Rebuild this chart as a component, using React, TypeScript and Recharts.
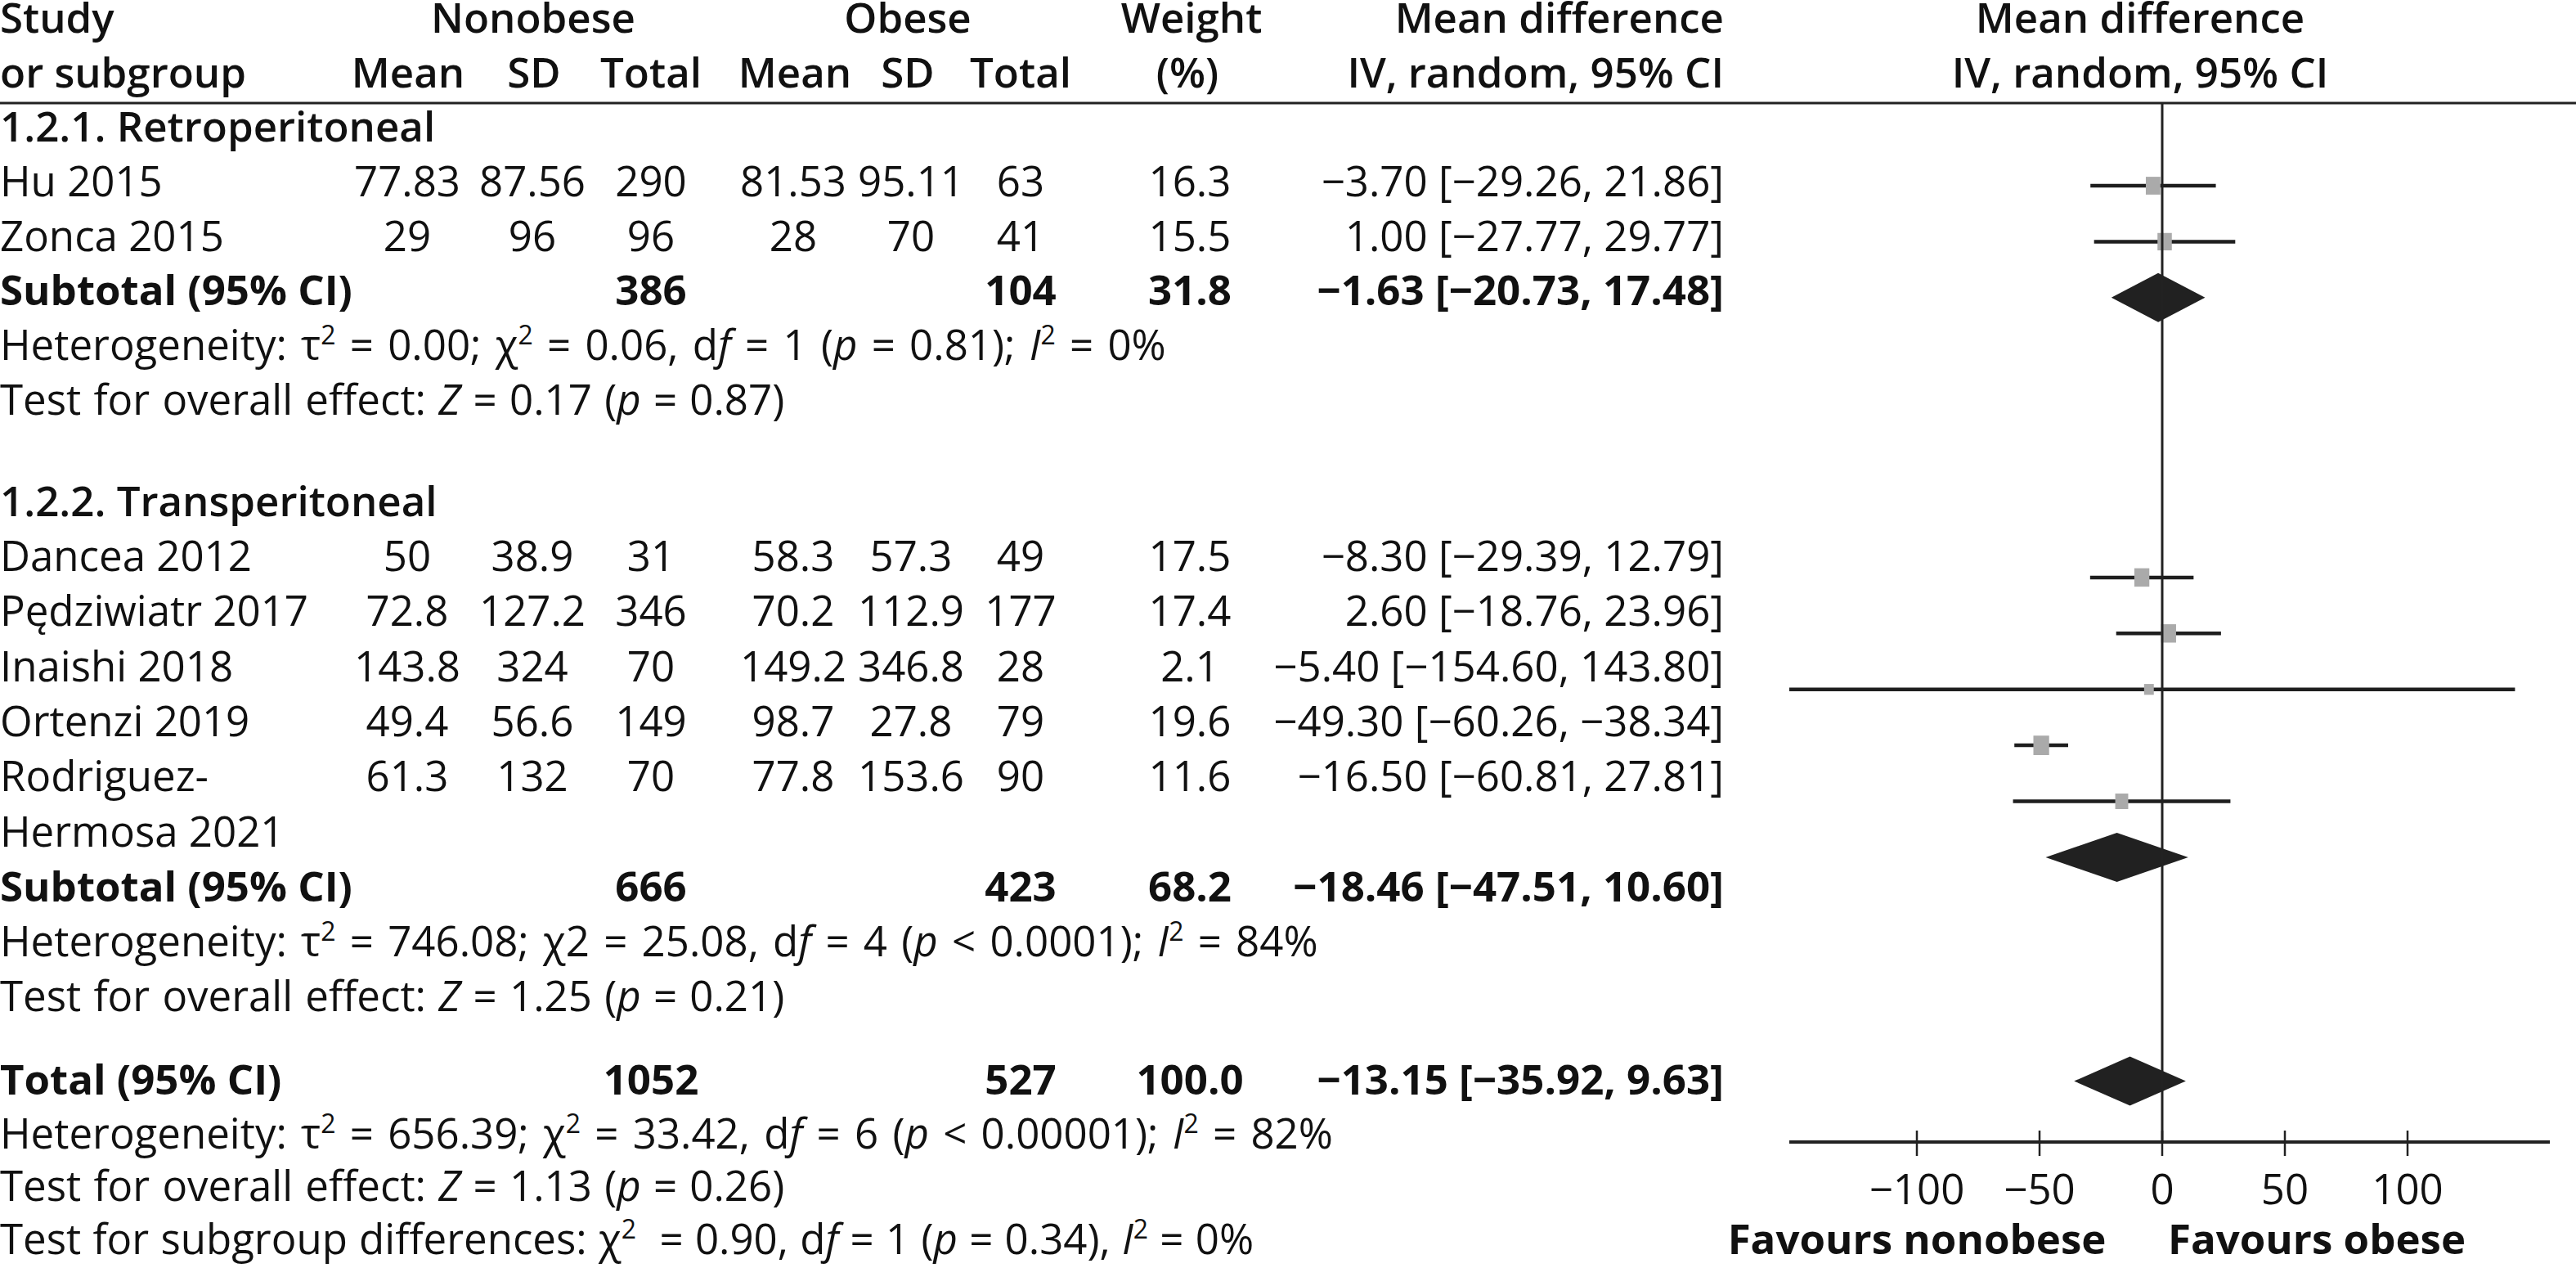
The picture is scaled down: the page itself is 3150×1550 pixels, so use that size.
import React from 'react';
import { ComposedChart, Bar, XAxis, YAxis, ReferenceLine } from 'recharts';

const FONT = '"Open Sans", "Noto Sans", sans-serif';
const INK = '#111111';
const FS = 51;

// ---------- data ----------
const studyNames = ['Hu 2015', 'Zonca 2015', 'Dancea 2012', 'Pędziwiatr 2017', 'Inaishi 2018', 'Ortenzi 2019', 'Rodriguez-|Hermosa 2021'];
const mean1 = [77.83, 29, 50, 72.8, 143.8, 49.4, 61.3];
const sd1 = [87.56, 96, 38.9, 127.2, 324, 56.6, 132];
const total1 = [290, 96, 31, 346, 70, 149, 70];
const mean2 = [81.53, 28, 58.3, 70.2, 149.2, 98.7, 77.8];
const sd2 = [95.11, 70, 57.3, 112.9, 346.8, 27.8, 153.6];
const total2 = [63, 41, 49, 177, 28, 79, 90];
const weights = [16.3, 15.5, 17.5, 17.4, 2.1, 19.6, 11.6];
const meanDiff = [-3.7, 1.0, -8.3, 2.6, -5.4, -49.3, -16.5];
const ciLow = [-29.26, -27.77, -29.39, -18.76, -154.6, -60.26, -60.81];
const ciHigh = [21.86, 29.77, 12.79, 23.96, 143.8, -38.34, 27.81];
const studyPlotRow = [0, 1, 7, 8, 9, 10, 11];

const pooledNames = ['Subtotal (95% CI)', 'Subtotal (95% CI)', 'Total (95% CI)'];
const pooledTotal1 = [386, 666, 1052];
const pooledTotal2 = [104, 423, 527];
const pooledWeight = [31.8, 68.2, 100.0];
const pooledMD = [-1.63, -18.46, -13.15];
const pooledLow = [-20.73, -47.51, -35.92];
const pooledHigh = [17.48, 10.6, 9.63];
const pooledPlotRow = [2, 12, 16];

const groupTitles = ['1.2.1. Retroperitoneal', '1.2.2. Transperitoneal'];
const statLines = [
  'Heterogeneity: τ^2 = 0.00; χ^2 = 0.06, d_f_ = 1 (_p_ = 0.81); _I_^2 = 0%',
  'Test for overall effect: _Z_ = 0.17 (_p_ = 0.87)',
  'Heterogeneity: τ^2 = 746.08; χ2 = 25.08, d_f_ = 4 (_p_ < 0.0001); _I_^2 = 84%',
  'Test for overall effect: _Z_ = 1.25 (_p_ = 0.21)',
  'Heterogeneity: τ^2 = 656.39; χ^2 = 33.42, d_f_ = 6 (_p_ < 0.00001); _I_^2 = 82%',
  'Test for overall effect: _Z_ = 1.13 (_p_ = 0.26)',
  'Test for subgroup differences: χ^2  = 0.90, d_f_ = 1 (_p_ = 0.34), _I_^2 = 0%',
];
const xTicks = [-100, -50, 0, 50, 100];
const xDomain: [number, number] = [-152, 158];
const favourLabels = ['Favours nonobese', 'Favours obese'];

// ---------- layout (not data) ----------
const studyBaseline = [240, 307, 698, 765, 833, 900, 967];
const pooledBaseline = [373, 1102, 1338];
const titleBaseline = [173, 631];
const statBaseline = [440, 507, 1169, 1236, 1404, 1468, 1533];
const statWordSpacing = [4, 2, 4, 2, 4, 2, 1];
const COL = { mean1: 498, sd1: 651, tot1: 796, mean2: 970, sd2: 1114, tot2: 1248, w: 1455, md: 2108 };

// ---------- helpers ----------
const minus = (s: string) => s.replace(/-/g, '−');
const fmtNum = (v: number) => minus(String(v));
const fmt2 = (v: number) => minus(v.toFixed(2));
const fmtCI = (m: number, lo: number, hi: number) => `${fmt2(m)} [${fmt2(lo)}, ${fmt2(hi)}]`;

type Row = { row: number; ci?: [number, number]; md?: number; weight?: number; kind?: string };
const plotRows: Row[] = Array.from({ length: 17 }, (_, r) => ({ row: r }));
studyPlotRow.forEach((r, i) => {
  plotRows[r] = { row: r, ci: [ciLow[i], ciHigh[i]], md: meanDiff[i], weight: weights[i], kind: 'study' };
});
pooledPlotRow.forEach((r, i) => {
  plotRows[r] = { row: r, ci: [pooledLow[i], pooledHigh[i]], md: pooledMD[i], weight: pooledWeight[i], kind: 'pooled' };
});

function rich(s: string) {
  const parts = s.split(/(_[^_]+_|\^2)/).filter((p) => p !== '');
  const out: any[] = [];
  let raised = false;
  parts.forEach((p, i) => {
    if (p === '^2') {
      out.push(<tspan key={i} dy={-19} fontSize={32}>2</tspan>);
      raised = true;
      return;
    }
    const dy = raised ? 19 : undefined;
    raised = false;
    if (p.length > 2 && p.startsWith('_') && p.endsWith('_')) {
      out.push(<tspan key={i} dy={dy} fontStyle="italic">{p.slice(1, -1)}</tspan>);
    } else {
      out.push(<tspan key={i} dy={dy}>{p}</tspan>);
    }
  });
  return out;
}

const T = ({ x, y, anchor = 'start', weight = 400, ws = 0, children }: any) => (
  <text x={x} y={y} textAnchor={anchor} fontWeight={weight} fontFamily={FONT} fontSize={FS} fill={INK} style={{ whiteSpace: 'pre', wordSpacing: ws }}>
    {children}
  </text>
);

const ForestMark = (props: any) => {
  const { x, y, width, height, payload } = props;
  if (!payload || !payload.ci) return <g />;
  const [lo, hi] = payload.ci;
  const cy = y + height / 2;
  const cx = x + (width * (payload.md - lo)) / (hi - lo);
  if (payload.kind === 'pooled') {
    const hh = 30;
    return <polygon points={`${x},${cy} ${cx},${cy - hh} ${x + width},${cy} ${cx},${cy + hh}`} fill="#212121" />;
  }
  const w = 11 + 0.42 * payload.weight;
  const h = 12 + 0.6 * payload.weight;
  return (
    <g>
      <line x1={x} x2={x + width} y1={cy} y2={cy} stroke="#1e1e1e" strokeWidth={4.5} />
      <rect x={cx - w / 2} y={cy - h / 2} width={w} height={h} fill="#aaaaaa" />
    </g>
  );
};

const AxisTick = (props: any) => {
  const { x, y, payload } = props;
  return (
    <g>
      <line x1={x} x2={x} y1={y - 14} y2={y + 17} stroke="#222" strokeWidth={2.5} />
      <text x={x} y={y + 76} textAnchor="middle" fontFamily={FONT} fontSize={FS} fill={INK}>
        {fmtNum(payload.value)}
      </text>
    </g>
  );
};

export default function App() {
  return (
    <div style={{ position: 'absolute', left: 0, top: 0, width: 3150, height: 1550, background: '#fff' }}>
      <div style={{ position: 'absolute', left: 0, top: 0 }}>
        <ComposedChart
          width={3150}
          height={1550}
          layout="vertical"
          data={plotRows}
          margin={{ top: 126, right: 32, bottom: 34, left: 2188 }}
        >
          <XAxis
            type="number"
            dataKey="md"
            domain={xDomain}
            allowDataOverflow
            ticks={xTicks}
            interval={0}
            height={120}
            tickSize={0}
            tickMargin={0}
            tickLine={false}
            axisLine={{ stroke: '#222', strokeWidth: 4 }}
            tick={<AxisTick />}
          />
          <YAxis type="category" dataKey="row" hide width={0} padding={{ top: 67, bottom: 40 }} />
          <Bar dataKey="ci" barSize={24} isAnimationActive={false} shape={ForestMark} />
          <ReferenceLine x={0} stroke="#222" strokeWidth={3} />
        </ComposedChart>
      </div>
      <svg width={3150} height={1550} style={{ position: 'absolute', left: 0, top: 0, pointerEvents: 'none' }}>
        {/* headers */}
        <T x={0} y={40} weight={600}>Study</T>
        <T x={652} y={40} anchor="middle" weight={600}>Nonobese</T>
        <T x={1110} y={40} anchor="middle" weight={600}>Obese</T>
        <T x={1457} y={40} anchor="middle" weight={600}>Weight</T>
        <T x={COL.md} y={40} anchor="end" weight={600}>Mean difference</T>
        <T x={2617} y={40} anchor="middle" weight={600}>Mean difference</T>
        <T x={0} y={107} weight={600}>or subgroup</T>
        <T x={499} y={107} anchor="middle" weight={600}>Mean</T>
        <T x={653} y={107} anchor="middle" weight={600}>SD</T>
        <T x={796} y={107} anchor="middle" weight={600}>Total</T>
        <T x={972} y={107} anchor="middle" weight={600}>Mean</T>
        <T x={1110} y={107} anchor="middle" weight={600}>SD</T>
        <T x={1248} y={107} anchor="middle" weight={600}>Total</T>
        <T x={1452} y={107} anchor="middle" weight={600}>(%)</T>
        <T x={COL.md} y={107} anchor="end" weight={600}>IV, random, 95% CI</T>
        <T x={2617} y={107} anchor="middle" weight={600}>IV, random, 95% CI</T>
        <line x1={0} x2={3150} y1={126} y2={126} stroke="#222" strokeWidth={3} />

        {groupTitles.map((g, i) => (
          <T key={g} x={0} y={titleBaseline[i]} weight={600}>{g}</T>
        ))}

        {studyNames.map((name, i) => {
          const y = studyBaseline[i];
          const lines = name.split('|');
          return (
            <g key={name}>
              {lines.map((l, k) => (
                <T key={k} x={0} y={y + k * 68}>{l}</T>
              ))}
              <T x={COL.mean1} y={y} anchor="middle">{fmtNum(mean1[i])}</T>
              <T x={COL.sd1} y={y} anchor="middle">{fmtNum(sd1[i])}</T>
              <T x={COL.tot1} y={y} anchor="middle">{fmtNum(total1[i])}</T>
              <T x={COL.mean2} y={y} anchor="middle">{fmtNum(mean2[i])}</T>
              <T x={COL.sd2} y={y} anchor="middle">{fmtNum(sd2[i])}</T>
              <T x={COL.tot2} y={y} anchor="middle">{fmtNum(total2[i])}</T>
              <T x={COL.w} y={y} anchor="middle">{weights[i].toFixed(1)}</T>
              <T x={COL.md} y={y} anchor="end">{fmtCI(meanDiff[i], ciLow[i], ciHigh[i])}</T>
            </g>
          );
        })}

        {pooledNames.map((name, i) => {
          const y = pooledBaseline[i];
          return (
            <g key={i}>
              <T x={0} y={y} weight={700}>{name}</T>
              <T x={COL.tot1} y={y} anchor="middle" weight={700}>{fmtNum(pooledTotal1[i])}</T>
              <T x={COL.tot2} y={y} anchor="middle" weight={700}>{fmtNum(pooledTotal2[i])}</T>
              <T x={COL.w} y={y} anchor="middle" weight={700}>{pooledWeight[i].toFixed(1)}</T>
              <T x={COL.md} y={y} anchor="end" weight={700}>{fmtCI(pooledMD[i], pooledLow[i], pooledHigh[i])}</T>
            </g>
          );
        })}

        {statLines.map((s, i) => (
          <T key={i} x={0} y={statBaseline[i]} ws={statWordSpacing[i]}>{rich(s)}</T>
        ))}

        <T x={2344} y={1533} anchor="middle" weight={700}>{favourLabels[0]}</T>
        <T x={2833} y={1533} anchor="middle" weight={700}>{favourLabels[1]}</T>
      </svg>
    </div>
  );
}
